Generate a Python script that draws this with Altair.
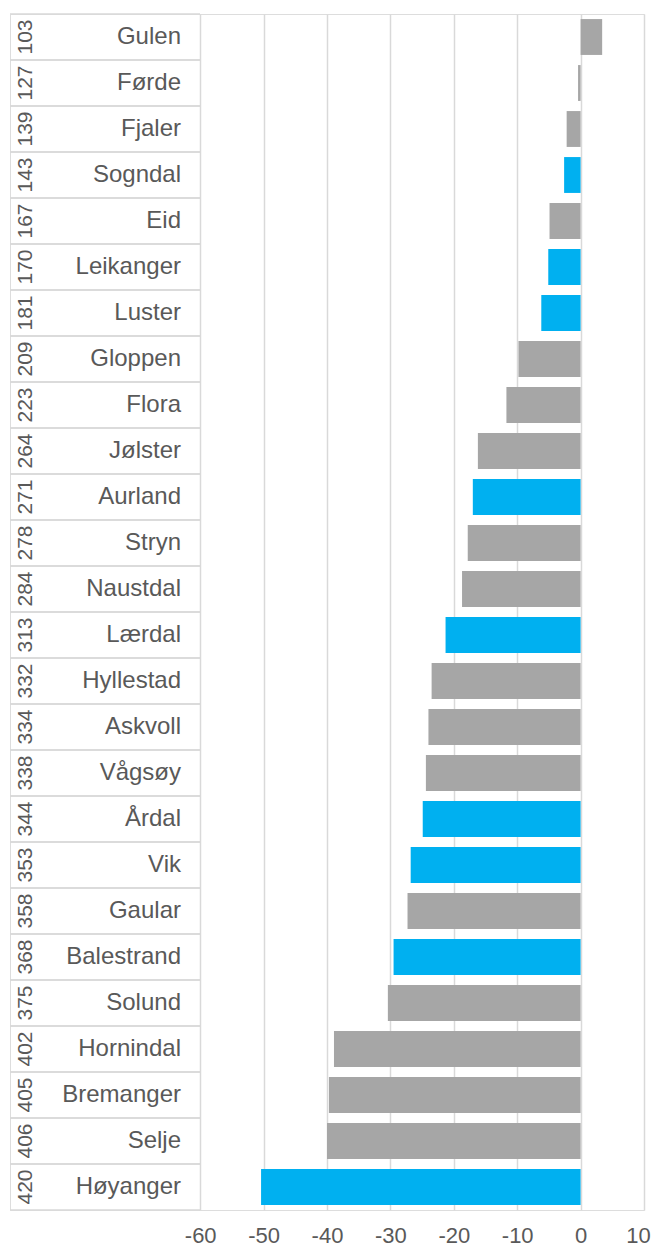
import altair as alt
import pandas as pd

ranks = [103, 127, 139, 143, 167, 170, 181, 209, 223, 264, 271, 278, 284, 313,
         332, 334, 338, 344, 353, 358, 368, 375, 402, 405, 406, 420]
names = ["Gulen", "Førde", "Fjaler", "Sogndal", "Eid", "Leikanger", "Luster",
         "Gloppen", "Flora", "Jølster", "Aurland", "Stryn", "Naustdal", "Lærdal",
         "Hyllestad", "Askvoll", "Vågsøy", "Årdal", "Vik", "Gaular", "Balestrand",
         "Solund", "Hornindal", "Bremanger", "Selje", "Høyanger"]
values = [3.4, -0.4, -2.2, -2.6, -4.9, -5.1, -6.2, -9.8, -11.7, -16.2, -17.0,
          -17.8, -18.7, -21.3, -23.5, -24.0, -24.4, -24.9, -26.8, -27.3, -29.5,
          -30.4, -38.9, -39.7, -40.0, -50.4]
sogn = ["Sogndal", "Leikanger", "Luster", "Aurland", "Lærdal", "Årdal", "Vik",
        "Balestrand", "Høyanger"]
ticks = [-60, -50, -40, -30, -20, -10, 0, 10]

df = pd.DataFrame({
    "rank": [str(r) for r in ranks],
    "name": names,
    "value": values,
    "group": ["sogn" if n in sogn else "other" for n in names],
})

TXT = "#595959"
GRID = "#D9D9D9"
FONT = "Liberation Sans"
W = 634
H = 1196
STEP = H / len(names)
GAP = 0.22 * STEP / 2

# one shared x scale: the label table occupies the span left of -60
xscale = alt.Scale(domain=[-90, 10], nice=False, zero=False)
yscale = alt.Scale(paddingInner=0.22, paddingOuter=0.11)
base = alt.Chart(df)

xaxis = alt.Axis(values=ticks, title=None, domain=False, ticks=False,
                 grid=True, gridColor=GRID, gridWidth=1.5,
                 labelFlush=False,
                 labelOffset={"condition": {"test": "datum.value == 10", "value": -6},
                              "value": 0},
                 labelExpr="datum.value < 0 ? '-' + abs(datum.value) : '' + datum.value",
                 labelFontSize=22, labelColor=TXT, labelFont=FONT,
                 labelPadding=15)

bars = base.mark_bar().encode(
    x=alt.X("value:Q", scale=xscale, axis=xaxis),
    x2=alt.datum(0),
    y=alt.Y("name:N", sort=names, axis=None, scale=yscale),
    color=alt.Color("group:N", legend=None,
                    scale=alt.Scale(domain=["sogn", "other"],
                                    range=["#00B0F0", "#A6A6A6"])),
)

rank_txt = base.mark_text(angle=270, fontSize=21, color=TXT, font=FONT,
                          align="center", baseline="middle").encode(
    y=alt.Y("name:N", sort=names),
    x=alt.value(16),
    text="rank:N",
)
name_txt = base.mark_text(align="right", baseline="middle", fontSize=24,
                          color=TXT, font=FONT).encode(
    y=alt.Y("name:N", sort=names),
    x=alt.value(171),
    text="name:N",
)
top_lines = base.mark_rule(color=GRID, strokeWidth=1.5, yOffset=-GAP).encode(
    y=alt.Y("name:N", sort=names, bandPosition=0),
    x=alt.value(0), x2=alt.value(190),
)
bot_lines = base.mark_rule(color=GRID, strokeWidth=1.5, yOffset=GAP).encode(
    y=alt.Y("name:N", sort=names, bandPosition=1),
    x=alt.value(0), x2=alt.value(190),
)

chart = alt.layer(bars, top_lines, bot_lines, rank_txt, name_txt).properties(
    width=W, height=H,
    padding={"left": 1, "top": 5, "right": 0, "bottom": 0},
).configure_view(stroke=None).configure(font=FONT)

chart.save("out.html", embed_options={"renderer": "svg", "actions": False})
